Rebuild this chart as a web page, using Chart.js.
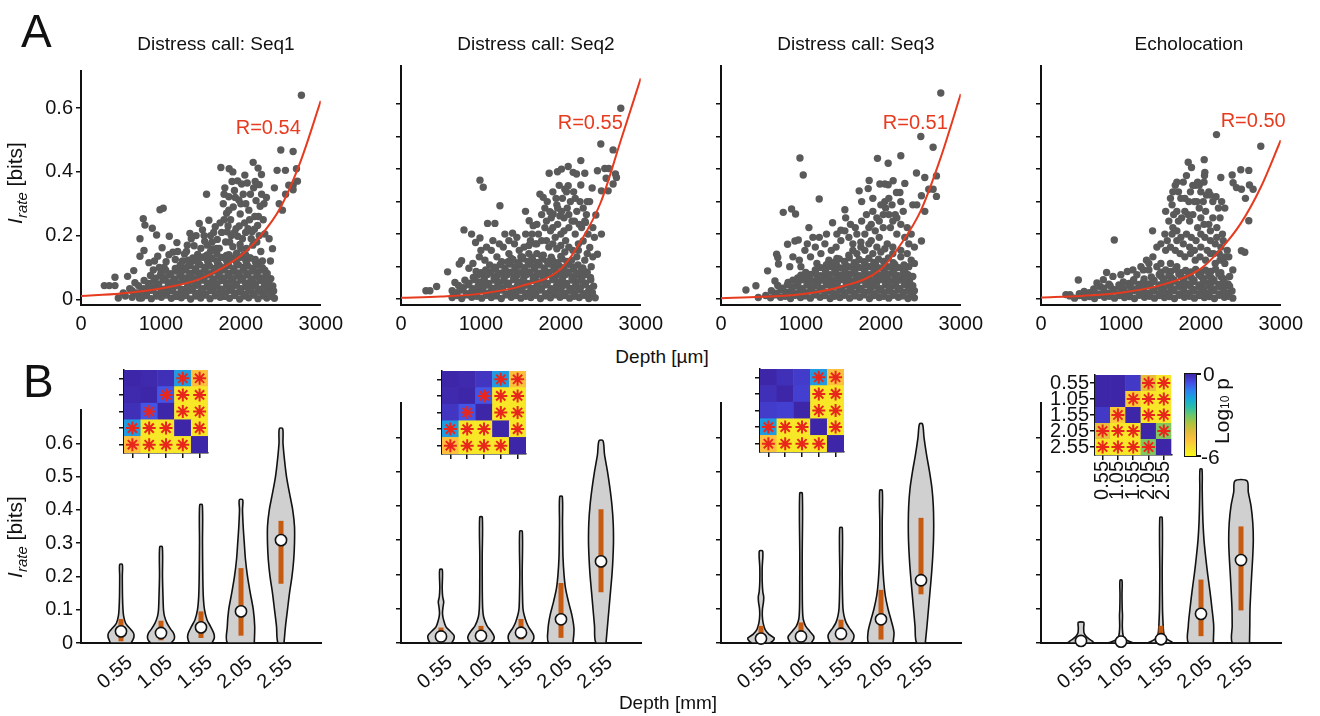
<!DOCTYPE html>
<html>
<head>
<meta charset="utf-8">
<script src="https://cdn.jsdelivr.net/npm/chart.js@4.4.1/dist/chart.umd.min.js"></script>
<style>
  html, body { margin: 0; padding: 0; background: #fff; }
  #fig { position: relative; width: 1320px; height: 716px; overflow: hidden;
         font-family: "Liberation Sans", Arial, Helvetica, sans-serif; color: #111; }
  #fig canvas { position: absolute; }
  .lbl { position: absolute; white-space: nowrap; font-size: 19px; line-height: 19px; }
  .big { font-size: 21px; line-height: 21px; }
  .ctr { transform: translateX(-50%); }
  .ylab { transform: translate(-50%, -50%) rotate(-90deg); }
  .panel { position: absolute; font-size: 46px; line-height: 46px; }
  .sub { font-size: 15px; vertical-align: -5px; }
  .cbar { position: absolute; box-sizing: border-box; border: 1.5px solid #111; }
  .tick { position: absolute; height: 1.5px; width: 5px; background: #111; }
</style>
</head>
<body>
<div id="fig"></div>
<script>
"use strict";

// ---- data ----------------------------------------------------------------
const panelTitles = ["Distress call: Seq1", "Distress call: Seq2", "Distress call: Seq3", "Echolocation"];
const fitLabels = ["R=0.54", "R=0.55", "R=0.51", "R=0.50"];

const umTicks = [0, 1000, 2000, 3000];
const bitsTicksTop1 = [0, 0.2, 0.4, 0.6];
const bitsTicksTop = [0, 0.1, 0.2, 0.3, 0.4, 0.5, 0.6];
const bitsTicksBottom = [0, 0.1, 0.2, 0.3, 0.4, 0.5, 0.6];
const depthTicks = [0.55, 1.05, 1.55, 2.05, 2.55];
const depthLabels = ["0.55", "1.05", "1.55", "2.05", "2.55"];

// exponential fit (depth in µm -> bits)
const fitDepth = [0, 500, 1000, 1500, 2000, 2250, 2500, 2750, 3000];
const seq1Fit = [0.010, 0.018, 0.034, 0.065, 0.137, 0.200, 0.290, 0.435, 0.623];
const seq2Fit = [0.004, 0.008, 0.017, 0.040, 0.093, 0.178, 0.298, 0.488, 0.679];
const seq3Fit = [0.003, 0.007, 0.015, 0.038, 0.092, 0.169, 0.272, 0.436, 0.631];
const echoFit = [0.005, 0.010, 0.020, 0.043, 0.094, 0.154, 0.233, 0.344, 0.489];

// single units: [depth µm, I_rate bits]
const seq1Points = [
  [292,.043],[354,.043],[425,.043],[425,.069],[467,.004],[529,.02],[583,.072],[555,.01],[610,.033],[640,.006],[675,.052],[700,.02],[730,.004],[660,.09],
  [738,.19],[779,.253],[800,.233],[788,.153],[738,.135],[892,.223],[946,.202],[988,.281],[1029,.286],
  [850,.115],[905,.092],[960,.135],[1015,.162],[1065,.118],[1105,.198],[1150,.148],[1200,.178],[1245,.102],[1295,.142],[1363,.207],[1415,.168],[1450,.128],[1480,.238],[1520,.218],[1571,.33],[1548,.182],[1600,.248],[1622,.2],[1652,.158],[1680,.228],[1705,.188],[1620,.15],[1560,.135],[1730,.16],[1760,.21],[1400,.12],[1330,.17],[1180,.125],
  [1750,.414],[1854,.41],[2154,.43],[2216,.412],[2258,.392],[1780,.3],[1800,.35],[1822,.27],[1850,.322],[1872,.25],[1890,.37],[1905,.29],[1920,.342],[1940,.222],[1960,.372],[1975,.312],[1992,.268],[2010,.362],[2030,.33],[2048,.24],[2062,.3],[2080,.365],[2100,.28],[2120,.33],[2140,.212],[2160,.35],[2175,.26],[2190,.31],[2210,.232],[2230,.36],[2242,.292],[2260,.33],[2280,.25],[2300,.205],[1830,.212],[1880,.2],[1960,.198],[2020,.19],[2090,.222],[2200,.18],[2250,.15],[2320,.32],[2354,.19],[2396,.159],[2300,.091],[2354,.06],[2370,.12],[1810,.18],[1900,.165],[1990,.172],[2070,.16],[2150,.17],[2110,.13],[2040,.14],[1950,.145],[1850,.14],[2180,.125],[2270,.12],
  [1320,.15],[1380,.19],[1440,.2],[1500,.16],[1540,.2],[1580,.17],[1640,.18],[1660,.21],[1700,.16],[1740,.24],[1790,.25],[1840,.23],[1860,.18],[1920,.21],[1980,.23],[2000,.16],[2060,.21],[2130,.19],[2170,.22],[2230,.2],[2220,.26],[2290,.3],[1850,.28],[1930,.32],[2000,.3],[2110,.25],[1790,.33],[1900,.4],[2050,.39],[2180,.37],[1270,.12],[1210,.15],[1100,.14],[1040,.1],[980,.1],[920,.12],
  [2454,.405],[2500,.469],[2558,.405],[2654,.464],[2696,.41],[2758,.641],[2600,.358],[2654,.358],[2708,.371],[2654,.344],[2480,.3],[2520,.28],[2420,.35],[2560,.33],
  [760,.004],[880,.002],[1005,.006],[1130,.003],[1255,.005],[1372,.001],[1498,.004],[1615,.002],[1742,.006],[1858,.003],[1985,.001],[2098,.005],[2215,.002],[2325,.004],[2420,.003],
  [820,.012],[945,.01],[1068,.013],[1190,.009],[1312,.012],[1436,.01],[1558,.013],[1680,.011],[1800,.009],[1922,.012],[2040,.01],[2160,.013],[2278,.011],[2372,.009],
  [705,.018],[818,.021],[943,.017],[1068,.02],[1192,.016],[1315,.022],[1437,.019],[1562,.017],[1683,.021],[1805,.018],[1925,.02],[2043,.016],[2158,.021],[2282,.018],[2385,.02],
  [640,.027],[760,.025],[880,.028],[1005,.024],[1130,.027],[1252,.025],[1375,.028],[1500,.024],[1620,.027],[1742,.025],[1862,.028],[1985,.024],[2100,.027],[2220,.025],[2330,.027],[2410,.026],
  [782,.033],[905,.036],[1028,.032],[1152,.035],[1270,.031],[1398,.036],[1522,.033],[1645,.035],[1762,.032],[1882,.036],[2002,.033],[2118,.035],[2240,.032],[2352,.036],
  [720,.043],[842,.041],[965,.044],[1090,.04],[1210,.043],[1335,.041],[1458,.044],[1580,.04],[1700,.043],[1822,.041],[1942,.044],[2062,.04],[2180,.043],[2295,.041],[2400,.042],
  [848,.05],[972,.048],[1092,.052],[1212,.049],[1338,.053],[1462,.048],[1580,.051],[1700,.049],[1822,.052],[1942,.048],[2060,.051],[2182,.049],[2300,.052],
  [790,.059],[910,.057],[1030,.06],[1152,.056],[1275,.059],[1398,.057],[1520,.06],[1642,.056],[1762,.059],[1882,.057],[2002,.06],[2122,.056],[2242,.059],[2350,.057],
  [930,.066],[1052,.068],[1172,.064],[1300,.067],[1420,.065],[1542,.069],[1662,.064],[1782,.067],[1902,.065],[2022,.068],[2142,.064],[2262,.067],[2375,.065],
  [870,.075],[990,.073],[1110,.076],[1235,.072],[1358,.075],[1480,.073],[1600,.076],[1722,.072],[1842,.075],[1962,.073],[2082,.076],[2200,.072],[2318,.075],
  [1000,.082],[1122,.08],[1250,.084],[1372,.081],[1490,.083],[1612,.08],[1732,.084],[1852,.081],[1972,.083],[2090,.08],[2210,.084],[2330,.081],
  [1060,.091],[1185,.089],[1310,.092],[1430,.088],[1550,.091],[1672,.089],[1792,.092],[1912,.088],[2032,.091],[2152,.089],[2270,.092],
  [1180,.097],[1310,.099],[1432,.096],[1552,.1],[1672,.097],[1790,.099],[1912,.096],[2032,.1],[2150,.097],[2270,.099],
  [1240,.107],[1365,.105],[1488,.108],[1610,.104],[1730,.107],[1850,.105],[1970,.108],[2090,.104],[2210,.107],
  [1350,.114],[1470,.112],[1590,.116],[1710,.113],[1830,.115],[1950,.112],[2070,.116],[2190,.113],
  [1340,.123],[1460,.121],[1580,.124],[1700,.12],[1820,.123],[1940,.121],[2060,.124],[2180,.12],
  [1400,.13],[1520,.132],[1640,.128],[1760,.131],[1880,.129],[2000,.132],[2120,.13],
  [1460,.141],[1580,.139],[1700,.142],[1820,.138],[1940,.141],[2060,.139]
];

const seq2Points = [
  [2750,.587],[2500,.477],[2654,.459],[2250,.426],[2092,.408],[2008,.4],[1958,.392],[1854,.387],[2154,.39],[2196,.385],[2300,.387],[2458,.395],[2550,.402],[2600,.402],[2683,.385],[2696,.374],[2567,.372],[2654,.354],[2592,.333],[2508,.333],
  [988,.366],[1029,.344],[1238,.287],[1083,.233],[1175,.233],[788,.213],[883,.2],[933,.174],[988,.188],[1396,.203],[1738,.323],[1779,.313],[1863,.269],[1904,.262],[1988,.256],[1558,.27],[1604,.241],[1654,.226],[2092,.349],[2050,.338],[2250,.351],[2392,.342],[2438,.259],[2508,.2],[2308,.236],[2279,.179],[2458,.138],[2362,.159],[583,.084],[675,.051],[312,.026],[362,.026],[446,.039],[758,.118],[729,.108],
  [1720,.2],[1760,.18],[1800,.22],[1830,.3],[1870,.21],[1900,.33],[1930,.19],[1950,.29],[1980,.35],[2000,.2],[2020,.31],[2040,.25],[2060,.18],[2080,.28],[2100,.22],[2120,.3],[2140,.24],[2160,.33],[2180,.2],[2200,.27],[2220,.17],[2240,.3],[2260,.22],[2280,.28],[2320,.26],[2340,.2],[2360,.3],[2400,.22],[2420,.19],[1880,.25],[1960,.23],[2010,.27],[2150,.15],[1850,.16],[1950,.155],[2050,.145],[1680,.17],[1620,.18],[1540,.16],[1480,.15],[1420,.17],[1350,.14],[1280,.16],[1200,.13],[1130,.15],[1050,.12],[980,.13],[900,.11],[850,.095],[940,.085],[1110,.105],[1260,.115],[1380,.125],[1500,.13],[1600,.14],[1700,.14],[1780,.135],[2200,.13],[2300,.12],[2380,.1],[2260,.09],
  [1560,.2],[1640,.2],[1700,.23],[1760,.26],[1820,.24],[1900,.22],[1960,.28],[2040,.21],[2100,.26],[2170,.24],[2230,.23],[2300,.24],[2330,.3],[1940,.31],[2070,.33],[2180,.31],[1800,.28],[1450,.19],[1350,.18],[1300,.2],[1230,.17],[1150,.18],[1070,.16],[1000,.15],[1600,.165],[1700,.17],[1820,.18],[1900,.17],[2000,.165],[2100,.16],[2220,.15],[2330,.14],[2400,.13],
  [640,.005],[760,.002],[885,.006],[1010,.003],[1130,.005],[1255,.002],[1380,.006],[1500,.003],[1625,.005],[1745,.002],[1870,.004],[1990,.006],[2110,.003],[2230,.005],[2350,.002],[2430,.004],
  [700,.011],[825,.013],[948,.009],[1070,.012],[1192,.01],[1315,.013],[1438,.011],[1560,.009],[1685,.012],[1805,.01],[1928,.013],[2048,.011],[2168,.009],[2290,.012],[2400,.01],
  [700,.02],[822,.017],[948,.021],[1070,.018],[1195,.02],[1318,.016],[1440,.021],[1562,.018],[1688,.02],[1808,.017],[1930,.021],[2050,.018],[2170,.02],[2290,.017],[2395,.02],
  [640,.026],[760,.028],[885,.024],[1008,.027],[1130,.025],[1255,.028],[1378,.024],[1500,.027],[1622,.025],[1745,.028],[1868,.024],[1990,.027],[2110,.025],[2230,.028],[2345,.024],
  [780,.035],[900,.032],[1025,.036],[1148,.033],[1270,.035],[1392,.032],[1518,.036],[1640,.033],[1762,.035],[1882,.032],[2005,.036],[2125,.033],[2245,.035],[2360,.032],
  [720,.042],[842,.044],[965,.04],[1088,.043],[1210,.041],[1332,.044],[1455,.04],[1578,.043],[1700,.041],[1822,.044],[1945,.04],[2065,.043],[2185,.041],[2305,.044],[2410,.04],
  [850,.049],[975,.052],[1098,.048],[1220,.051],[1345,.049],[1465,.052],[1588,.048],[1710,.051],[1830,.049],[1952,.052],[2072,.048],[2192,.051],[2310,.049],
  [800,.058],[920,.06],[1042,.056],[1165,.059],[1288,.057],[1410,.06],[1532,.056],[1655,.059],[1778,.057],[1900,.06],[2020,.056],[2140,.059],[2260,.057],[2375,.06],
  [905,.067],[1040,.064],[1165,.068],[1290,.065],[1412,.067],[1535,.064],[1655,.068],[1778,.065],[1900,.067],[2020,.064],[2140,.068],[2260,.065],[2370,.067],
  [960,.074],[1082,.076],[1205,.072],[1328,.075],[1450,.073],[1572,.076],[1695,.072],[1818,.075],[1940,.073],[2060,.076],[2180,.072],[2300,.075],
  [1000,.081],[1120,.084],[1245,.08],[1368,.083],[1490,.081],[1612,.084],[1735,.08],[1855,.083],[1975,.081],[2095,.084],[2215,.08],[2330,.083],
  [1060,.09],[1182,.092],[1305,.088],[1428,.091],[1550,.089],[1672,.092],[1795,.088],[1918,.091],[2040,.089],[2160,.092],[2280,.088],
  [1170,.098],[1300,.096],[1425,.1],[1548,.097],[1670,.099],[1792,.096],[1912,.1],[2035,.097],[2155,.099],[2275,.096],
  [1240,.106],[1362,.108],[1485,.104],[1608,.107],[1730,.105],[1852,.108],[1975,.104],[2095,.107],[2215,.105],
  [1340,.115],[1465,.112],[1588,.116],[1710,.113],[1832,.115],[1955,.112],[2075,.116],
  [1400,.122],[1525,.124],[1648,.12],[1770,.123],[1892,.121],[2015,.124],[2135,.12],
  [1520,.13],[1640,.128],[1760,.132],[1880,.129],[2000,.131]
];

const seq3Points = [
  [2750,.634],[2500,.5],[2654,.467],[988,.434],[1029,.382],[1958,.433],[2092,.418],[2250,.441],[1854,.365],[1988,.354],[2050,.354],[2092,.352],[2154,.364],[2300,.356],[2446,.388],[2550,.374],[2696,.379],[2654,.338],[2600,.338],[1229,.308],[1729,.333],[1842,.34],[2196,.328],[2238,.328],[779,.267],[883,.277],[933,.262],[1100,.22],[1396,.235],[1500,.212],[1550,.275],[1560,.25],[833,.169],[925,.179],[967,.182],[696,.138],[710,.128],[720,.108],[583,.087],[675,.056],[312,.028],[437,.041],[467,.005],[2508,.179],
  [2050,.3],[2060,.28],[2140,.29],[2180,.26],[2400,.29],[2450,.29],[2508,.318],[2550,.27],[2696,.316],[1900,.27],[1950,.25],[2000,.29],[2030,.22],[2100,.26],[2150,.24],[2200,.2],[2250,.23],[2300,.19],[2350,.17],[2420,.16],[2380,.12],[2330,.14],[1800,.2],[1850,.22],[1880,.18],[1980,.19],[2080,.17],[1750,.175],[1700,.2],[1650,.17],[1600,.19],[1500,.18],[1440,.16],[1380,.15],[1300,.17],[1250,.14],[1180,.16],[1120,.13],[1050,.15],[980,.12],[900,.13],[860,.1],[1700,.14],[1800,.15],[1900,.14],[2000,.145],[2150,.14],[2250,.13],[1600,.135],[1450,.125],[1350,.12],[1200,.11],[1000,.1],[2300,.085],[2400,.07],
  [1550,.21],[1620,.23],[1680,.22],[1760,.24],[1820,.26],[1880,.23],[1930,.21],[1980,.24],[2030,.26],[2120,.22],[2200,.25],[2280,.27],[2330,.22],[2380,.2],[1760,.3],[1900,.31],[2100,.31],[2250,.3],[1450,.2],[1320,.2],[1230,.19],[1150,.19],[1080,.17],[1650,.15],[1750,.16],[1850,.17],[1950,.16],[2050,.155],[2150,.16],[2250,.15],[2350,.1],[2420,.11],
  [620,.004],[745,.006],[870,.002],[995,.005],[1118,.003],[1240,.006],[1365,.002],[1488,.005],[1610,.003],[1735,.006],[1858,.002],[1980,.005],[2100,.003],[2220,.006],[2340,.002],[2420,.004],
  [560,.011],[680,.013],[805,.009],[928,.012],[1052,.01],[1175,.013],[1298,.011],[1420,.009],[1545,.012],[1668,.01],[1790,.013],[1912,.011],[2035,.009],[2155,.012],[2275,.01],[2395,.013],
  [690,.018],[810,.021],[935,.017],[1058,.02],[1182,.018],[1305,.021],[1428,.017],[1552,.02],[1675,.018],[1798,.021],[1920,.017],[2042,.02],[2162,.018],[2282,.021],[2390,.018],
  [630,.026],[750,.028],[872,.024],[995,.027],[1120,.025],[1242,.028],[1365,.024],[1488,.027],[1610,.025],[1732,.028],[1855,.024],[1978,.027],[2100,.025],[2220,.028],[2340,.024],[2420,.026],
  [770,.034],[892,.036],[1015,.032],[1140,.035],[1262,.033],[1385,.036],[1508,.032],[1630,.035],[1752,.033],[1875,.036],[1995,.032],[2115,.035],[2235,.033],[2350,.036],
  [710,.042],[830,.044],[952,.04],[1075,.043],[1198,.041],[1320,.044],[1443,.04],[1566,.043],[1690,.041],[1812,.044],[1935,.04],[2058,.043],[2178,.041],[2298,.044],[2400,.041],
  [840,.051],[962,.048],[1085,.052],[1210,.049],[1332,.051],[1455,.048],[1578,.052],[1700,.049],[1822,.051],[1945,.048],[2065,.052],[2185,.049],[2305,.051],
  [900,.058],[1022,.06],[1145,.056],[1268,.059],[1390,.057],[1512,.06],[1635,.056],[1758,.059],[1880,.057],[2002,.06],[2122,.056],[2242,.059],[2360,.057],
  [960,.065],[1082,.068],[1205,.064],[1328,.067],[1450,.065],[1572,.068],[1695,.064],[1818,.067],[1940,.065],[2060,.068],[2180,.064],[2300,.067],
  [1000,.074],[1122,.076],[1245,.072],[1368,.075],[1490,.073],[1612,.076],[1735,.072],[1858,.075],[1980,.073],[2100,.076],[2220,.072],[2340,.075],
  [1060,.082],[1185,.08],[1310,.084],[1432,.081],[1555,.083],[1678,.08],[1800,.084],[1922,.081],[2045,.083],[2165,.08],[2285,.084],
  [1180,.09],[1302,.092],[1425,.088],[1548,.091],[1670,.089],[1792,.092],[1915,.088],[2038,.091],[2160,.089],[2280,.092],
  [1250,.097],[1372,.1],[1495,.096],[1618,.099],[1740,.097],[1862,.1],[1985,.096],[2105,.099],[2225,.097],
  [1320,.106],[1442,.108],[1565,.104],[1688,.107],[1810,.105],[1932,.108],[2055,.104],[2175,.107],[2290,.105],
  [1420,.113],[1545,.116],[1668,.112],[1790,.115],[1912,.113],[2035,.116],[2155,.112],
  [1480,.124],[1605,.127],[1728,.122],[1850,.126],[1972,.123],[2095,.127]
];

const echoPoints = [
  [2196,.506],[2750,.47],[2042,.429],[1842,.421],[1883,.405],[2500,.398],[2600,.396],[2392,.382],[2250,.374],[2050,.39],[2046,.38],[2404,.358],[2446,.343],[2508,.338],[2608,.351],[2654,.338],[2558,.31],[2600,.241],[2508,.149],[2550,.144],[917,.182],[1396,.21],[467,.059],[821,.082],[312,.014],[362,.014],
  [1700,.36],[1680,.35],[1650,.33],[1900,.35],[1930,.35],[1960,.36],[1980,.35],[2000,.33],[2100,.33],[1750,.31],[1800,.31],[1850,.3],[1950,.3],[2030,.3],[2070,.32],[2120,.32],[2190,.315],[2300,.28],[1640,.29],[1700,.27],[1760,.25],[1800,.27],[1860,.24],[1900,.26],[1960,.22],[2000,.25],[2060,.27],[2100,.23],[2150,.25],[2200,.22],[2240,.25],[2270,.2],[1600,.24],[1650,.22],[1700,.21],[1750,.19],[1820,.2],[1880,.19],[1940,.18],[2000,.2],[2050,.19],[2120,.18],[2180,.17],[2250,.16],[2330,.15],[2350,.13],[2300,.11],[2400,.09],[2360,.07],[1550,.2],[1500,.17],[1450,.16],[1560,.15],[1620,.16],[1680,.15],[1740,.14],[1800,.13],[1870,.14],[1930,.12],[1990,.13],[2060,.12],[2120,.14],[2180,.11],[2240,.12],[1400,.13],[1320,.12],[1250,.1],[1150,.09],[1080,.085],[1000,.075],[900,.07],[780,.06],[700,.05],[1200,.075],[1350,.09],[1500,.11],[1620,.11],[1700,.1],
  [1560,.27],[1620,.31],[1720,.33],[1780,.36],[1820,.38],[1870,.33],[2040,.36],[2150,.3],[2220,.28],[2260,.3],[1660,.26],[1720,.24],[1840,.26],[1920,.3],[1980,.28],[2040,.23],[2120,.21],[2200,.19],[2280,.18],[1580,.18],[1640,.2],[1700,.18],[1780,.17],[1860,.16],[1920,.15],[2000,.16],[2080,.15],[2160,.14],[2230,.14],[2300,.13],[1450,.1],[1350,.11],[1280,.09],
  [420,.003],[545,.005],[670,.002],[795,.006],[920,.003],[1045,.005],[1170,.002],[1295,.006],[1420,.003],[1545,.005],[1670,.002],[1795,.006],[1920,.003],[2045,.005],[2170,.002],[2295,.006],[2400,.003],
  [360,.01],[482,.011],[607,.008],[732,.012],[857,.009],[982,.011],[1107,.008],[1232,.012],[1357,.009],[1482,.011],[1607,.008],[1732,.012],[1857,.009],[1982,.011],[2107,.008],[2232,.012],[2345,.009],
  [480,.017],[605,.02],[730,.016],[855,.019],[980,.017],[1105,.02],[1230,.016],[1355,.019],[1480,.017],[1605,.02],[1730,.016],[1855,.019],[1980,.017],[2105,.02],[2230,.016],[2350,.019],
  [540,.024],[665,.026],[790,.022],[915,.025],[1040,.023],[1165,.026],[1290,.022],[1415,.025],[1540,.023],[1665,.026],[1790,.022],[1915,.025],[2040,.023],[2165,.026],[2290,.022],[2390,.025],
  [660,.031],[785,.034],[910,.03],[1035,.033],[1160,.031],[1285,.034],[1410,.03],[1535,.033],[1660,.031],[1785,.034],[1910,.03],[2035,.033],[2160,.031],[2285,.034],
  [740,.039],[865,.041],[990,.037],[1115,.04],[1240,.038],[1365,.041],[1490,.037],[1615,.04],[1740,.038],[1865,.041],[1990,.037],[2115,.04],[2240,.038],[2360,.04],
  [850,.046],[975,.044],[1100,.048],[1225,.045],[1350,.047],[1475,.044],[1600,.048],[1725,.045],[1850,.047],[1975,.044],[2100,.048],[2225,.045],[2340,.047],
  [1030,.053],[1155,.055],[1280,.051],[1405,.054],[1530,.052],[1655,.055],[1780,.051],[1905,.054],[2030,.052],[2155,.055],[2280,.051],
  [1160,.06],[1290,.062],[1415,.058],[1540,.061],[1665,.059],[1790,.062],[1915,.058],[2040,.061],[2165,.059],[2290,.062],
  [1380,.068],[1505,.07],[1630,.066],[1755,.069],[1880,.067],[2005,.07],[2130,.066],[2255,.069],
  [1480,.076],[1600,.073],[1725,.077],[1850,.074],[1975,.076],[2100,.073],[2225,.077],
  [1500,.083],[1625,.085],[1750,.081],[1875,.084],[2000,.082],[2125,.085],[2250,.081],
  [1560,.09],[1685,.092],[1810,.088],[1935,.091],[2060,.089],[2185,.092]
];

// violins: y (bits) and half-width (density units) per depth bin
const seq1ViolinY = [
  [0,.01,.02,.03,.04,.05,.06,.08,.1,.14,.2,.236],
  [0,.01,.02,.03,.04,.06,.08,.1,.14,.2,.289],
  [0,.015,.03,.05,.07,.1,.14,.2,.3,.415],
  [0,.05,.1,.15,.2,.25,.3,.35,.4,.43],
  [0,.05,.1,.15,.2,.25,.3,.35,.4,.45,.5,.55,.6,.644]
];
const seq1ViolinW = [
  [10,12,13,12.5,10,7,4.5,2.7,2,1.5,1.3,1.3],
  [10,13,13.5,12.5,10,6,3.5,2.5,2,1.5,1.3],
  [11,13.3,12.7,9.5,6,3.5,2.3,1.8,1.5,1.3],
  [13.3,13.7,12.3,9.3,6.5,4.5,3.3,2.2,1.5,1.7],
  [3,4.5,6.5,8.5,11,12.7,13.5,13.5,11.7,8.5,5.5,3.5,2,1.7]
];
const seq1Median = [.035, .03, .047, .095, .309];
const seq1Q1 = [.005, .008, .015, .022, .178];
const seq1Q3 = [.072, .067, .095, .225, .367];

const seq2ViolinY = [
  [0,.01,.022,.035,.047,.066,.085,.105,.12,.135,.16,.214],
  [0,.01,.02,.035,.05,.075,.1,.15,.25,.367],
  [0,.012,.025,.045,.06,.08,.1,.14,.2,.326],
  [0,.04,.08,.12,.16,.2,.25,.3,.35,.427],
  [0,.05,.1,.15,.2,.25,.3,.35,.4,.45,.5,.55,.59]
];
const seq2ViolinW = [
  [10.5,12.7,13,9,5,2.7,1.5,2,2.7,1.7,1.2,1.3],
  [10,12.7,13,10,6,2.7,1.7,1.3,1.2,1.3],
  [10.5,12.7,12.3,8,5.5,3.3,2,1.5,1.2,1.3],
  [12,13,11,7.5,4.5,3,2,1.7,1.5,1.3],
  [5,6.5,8,9.5,11,12,12.5,12.2,11,9,6.5,3.5,2]
];
const seq2Median = [.019, .021, .03, .069, .238];
const seq2Q1 = [.005, .008, .01, .015, .148];
const seq2Q3 = [.045, .05, .07, .175, .39];

const seq3ViolinY = [
  [0,.008,.015,.025,.04,.06,.08,.1,.12,.135,.15,.18,.22,.268],
  [0,.01,.02,.035,.05,.07,.1,.15,.25,.437],
  [0,.012,.025,.045,.06,.08,.1,.14,.2,.336],
  [0,.03,.065,.1,.14,.18,.23,.28,.35,.445],
  [0,.05,.1,.15,.2,.25,.3,.35,.4,.45,.5,.55,.6,.639]
];
const seq3ViolinW = [
  [9,12.5,13,8,4,2,1.3,1.5,2.5,2.7,1.8,1.2,1.2,1.7],
  [10,12.5,12.7,8.5,4.5,2.2,1.5,1.3,1.2,1.3],
  [10,12.5,12.7,8,5,3,2,1.5,1.2,1.3],
  [12,13,10.3,7,4.2,2.7,1.7,1.3,1.2,1.3],
  [4.3,6,7.5,9,10.5,11.7,12.5,12.7,12.3,11,8.5,5.5,3,1.5]
];
const seq3Median = [.013, .019, .027, .069, .183];
const seq3Q1 = [.003, .008, .008, .01, .142];
const seq3Q3 = [.05, .06, .068, .155, .365];

const echoViolinY = [
  [0,.006,.012,.02,.03,.045,.06],
  [0,.005,.01,.018,.03,.05,.08,.1,.14,.183],
  [0,.006,.012,.02,.035,.06,.1,.2,.366],
  [0,.05,.1,.15,.2,.25,.3,.35,.4,.45,.507],
  [0,.05,.1,.15,.2,.25,.3,.35,.4,.44,.473]
];
const echoViolinW = [
  [13,11,8,5,3,2.7,2.7],
  [12.7,8,5,2.5,1.7,1.3,1.5,1.2,1,1],
  [12.7,9,5.5,3.5,2.5,2,1.5,1.2,1.2],
  [12.3,12.7,11,9,6.7,4.7,3,2,1.5,1.2,1],
  [8.5,8.8,9,9.8,10.7,11.7,12.3,11.8,10,7.3,6]
];
const echoMedian = [.006, .004, .011, .085, .242];
const echoQ1 = [0, 0, .005, .02, .095];
const echoQ3 = [.01, .008, .05, .185, .34];

// pairwise tests: log10 p (rows/cols = depth bins) and significance flags
const seq1LogP = [
  [0, -0.05, -0.15, -1.6, -4.8],
  [-0.05, 0, -0.7, -5.6, -5.6],
  [-0.15, -0.7, 0, -5.6, -5.6],
  [-1.6, -5.6, -5.6, 0, -5.6],
  [-4.8, -5.6, -5.6, -5.6, 0]
];
const seq2LogP = [
  [0, -0.05, -0.25, -1.6, -4.8],
  [-0.05, 0, -0.7, -5.6, -5.6],
  [-0.25, -0.7, 0, -5.6, -5.6],
  [-1.6, -5.6, -5.6, 0, -5.6],
  [-4.8, -5.6, -5.6, -5.6, 0]
];
const seq3LogP = [
  [0, -0.15, -0.35, -1.6, -4.8],
  [-0.15, 0, -0.4, -5.6, -5.6],
  [-0.35, -0.4, 0, -5.6, -5.6],
  [-1.6, -5.6, -5.6, 0, -5.6],
  [-4.8, -5.6, -5.6, -5.6, 0]
];
const echoLogP = [
  [0, 0, -0.3, -4.4, -5.6],
  [0, 0, -5.0, -5.6, -5.6],
  [-0.3, -5.0, 0, -5.6, -5.6],
  [-4.4, -5.6, -5.6, 0, -3.2],
  [-5.6, -5.6, -5.6, -3.2, 0]
];
const sigAll = [
  [0, 0, 0, 1, 1],
  [0, 0, 1, 1, 1],
  [0, 1, 0, 1, 1],
  [1, 1, 1, 0, 1],
  [1, 1, 1, 1, 0]
];
const sigSeq3 = [
  [0, 0, 0, 1, 1],
  [0, 0, 0, 1, 1],
  [0, 0, 0, 1, 1],
  [1, 1, 1, 0, 1],
  [1, 1, 1, 1, 0]
];

// ---- style ---------------------------------------------------------------
const FONT = '"Liberation Sans", Arial, Helvetica, sans-serif';
const INK = "#111";
const RED = "#e63b1f";
const DOT = "#5a5a5a";
const VIOLIN_FILL = "#d0d0d0";
const IQR = "#c55a11";
const VIOLIN_UNIT = 0.0125; // mm of depth per density unit

// parula-like map, 0 (p=1) -> -6
const parulaStops = [
  [0.0, [62, 38, 168]], [0.1, [70, 75, 228]], [0.2, [45, 128, 240]],
  [0.3, [22, 168, 218]], [0.4, [40, 190, 172]], [0.5, [105, 200, 110]],
  [0.6, [172, 196, 62]], [0.7, [222, 188, 58]], [0.8, [252, 192, 60]],
  [0.9, [246, 222, 46]], [1.0, [249, 248, 24]]
];
function mapColor(t) {
  t = Math.min(1, Math.max(0, t));
  for (let i = 1; i < parulaStops.length; i++) {
    const [t1, c1] = parulaStops[i];
    const [t0, c0] = parulaStops[i - 1];
    if (t <= t1) {
      const f = (t - t0) / (t1 - t0);
      const c = c0.map((v, k) => Math.round(v + (c1[k] - v) * f));
      return `rgb(${c[0]},${c[1]},${c[2]})`;
    }
  }
  return "rgb(249,248,24)";
}
const logPColor = (v) => mapColor(-v / 6);

Chart.defaults.font.family = FONT;
Chart.defaults.font.size = 19;
Chart.defaults.color = INK;
Chart.defaults.animation = false;
Chart.defaults.events = [];
Chart.defaults.plugins.legend.display = false;
Chart.defaults.plugins.tooltip.enabled = false;

const fig = document.getElementById("fig");

function addCanvas(left, top, w, h) {
  const c = document.createElement("canvas");
  c.width = w; c.height = h;
  c.style.left = left + "px"; c.style.top = top + "px";
  c.style.width = w + "px"; c.style.height = h + "px";
  fig.appendChild(c);
  return c;
}

function addText(html, left, top, cls) {
  const d = document.createElement("div");
  d.className = cls;
  d.style.left = left + "px";
  d.style.top = top + "px";
  d.innerHTML = html;
  fig.appendChild(d);
  return d;
}

const fixTicks = (vals) => (scale) => { scale.ticks = vals.map((v) => ({ value: v })); };

// R= label next to the fit curve
const rLabelPlugin = {
  id: "rLabel",
  afterDatasetsDraw(chart, args, opts) {
    const { ctx, scales: { x, y } } = chart;
    ctx.save();
    ctx.font = "20px " + FONT;
    ctx.fillStyle = RED;
    ctx.textAlign = "right";
    ctx.textBaseline = "middle";
    ctx.fillText(opts.text, x.getPixelForValue(opts.at[0]), y.getPixelForValue(opts.at[1]));
    ctx.restore();
  }
};

function xAxis(min, max, ticks, fmt, rot, height, pad, shift) {
  return {
    type: "linear", min, max,
    afterBuildTicks: fixTicks(ticks),
    afterFit: (s) => { s.height = height; },
    grid: { display: true, drawOnChartArea: false, drawTicks: false },
    border: { display: true, color: INK, width: 2 },
    ticks: { padding: pad, labelOffset: shift, minRotation: rot, maxRotation: rot, autoSkip: false,
             callback: fmt, font: { size: 20 } }
  };
}

function yAxis(min, max, ticks, showLabels, fmt) {
  return {
    type: "linear", min, max,
    afterBuildTicks: fixTicks(ticks),
    afterFit: (s) => { s.width = 81; },
    grid: { display: true, drawOnChartArea: false, drawTicks: true, tickLength: 5, color: INK, lineWidth: 1.5 },
    border: { display: true, color: INK, width: 2 },
    ticks: { display: showLabels, padding: 3, autoSkip: false, callback: fmt, font: { size: 20 } }
  };
}

const bitsFmt = (v) => (v === 0 ? "0" : v.toFixed(1));

// ---- top row: scatter + fit ----------------------------------------------
const topPoints = [seq1Points, seq2Points, seq3Points, echoPoints];
const topFits = [seq1Fit, seq2Fit, seq3Fit, echoFit];
const rLabelAt = [[2750, 0.535], [2775, 0.54], [2838, 0.54], [3062, 0.545]];

topPoints.forEach((pts, i) => {
  const cv = addCanvas(320 * i, 56, 350, 290);
  new Chart(cv, {
    type: "line",
    data: {
      datasets: [
        {
          data: fitDepth.map((x, k) => ({ x, y: topFits[i][k] })),
          borderColor: RED, borderWidth: 2, pointRadius: 0,
          cubicInterpolationMode: "monotone", fill: false, order: 0
        },
        {
          data: pts.map(([x, y]) => ({ x, y })),
          showLine: false, pointRadius: 3.7, pointBorderWidth: 0,
          pointBackgroundColor: DOT, order: 1
        }
      ]
    },
    options: {
      responsive: false,
      layout: { autoPadding: false, padding: { top: 10, right: 29, left: 0, bottom: 0 } },
      scales: {
        x: xAxis(0, 3000, umTicks, (v) => String(v), 0, 41, 7, 0),
        y: yAxis(-0.018, 0.717, i === 0 ? bitsTicksTop1 : bitsTicksTop, i === 0, bitsFmt)
      },
      plugins: { rLabel: { text: fitLabels[i], at: rLabelAt[i] } }
    },
    plugins: [rLabelPlugin]
  });
});

// ---- bottom row: violins -------------------------------------------------
const violinY = [seq1ViolinY, seq2ViolinY, seq3ViolinY, echoViolinY];
const violinW = [seq1ViolinW, seq2ViolinW, seq3ViolinW, echoViolinW];
const medians = [seq1Median, seq2Median, seq3Median, echoMedian];
const q1s = [seq1Q1, seq2Q1, seq3Q1, echoQ1];
const q3s = [seq1Q3, seq2Q3, seq3Q3, echoQ3];

function violinOutline(center, ys, ws) {
  const right = ys.map((y, k) => ({ x: center + ws[k] * VIOLIN_UNIT, y }));
  const left = ys.map((y, k) => ({ x: center - ws[k] * VIOLIN_UNIT, y })).reverse();
  return [...right, ...left, right[0]];
}

violinY.forEach((ysets, i) => {
  const datasets = [];
  depthTicks.forEach((c, j) => {
    datasets.push({
      data: violinOutline(c, ysets[j], violinW[i][j]),
      showLine: true, pointRadius: 0, borderColor: INK, borderWidth: 1.6,
      backgroundColor: VIOLIN_FILL, fill: "shape", tension: 0.3, order: 2
    });
    datasets.push({
      data: [{ x: c, y: q1s[i][j] }, { x: c, y: q3s[i][j] }],
      showLine: true, pointRadius: 0, borderColor: IQR, borderWidth: 5,
      borderCapStyle: "butt", fill: false, order: 1
    });
  });
  datasets.push({
    data: depthTicks.map((c, j) => ({ x: c, y: medians[i][j] })),
    showLine: false, pointRadius: 5.6, pointBorderWidth: 1.6,
    pointBorderColor: INK, pointBackgroundColor: "#fff", clip: false, order: 0
  });

  const cv = addCanvas(320 * i, 395, 350, 305);
  new Chart(cv, {
    type: "line",
    data: { datasets },
    options: {
      responsive: false,
      layout: { autoPadding: false, padding: { top: 8, right: 29, left: 0, bottom: 0 } },
      scales: {
        x: xAxis(0.05, 3.05, depthTicks, (v) => v.toFixed(2), 40, 57, 8, 9),
        y: yAxis(0, 0.7, bitsTicksBottom, i === 0, bitsFmt)
      }
    }
  });
});

// ---- inset heatmaps ------------------------------------------------------
const insetLogP = [seq1LogP, seq2LogP, seq3LogP, echoLogP];
const insetSig = [sigAll, sigAll, sigSeq3, sigAll];
const insetBoxes = [
  { left: 100, top: 360, w: 120, h: 110, yW: 24, xH: 17, labels: false },
  { left: 418, top: 361, w: 120, h: 110, yW: 24, xH: 17, labels: false },
  { left: 736, top: 359, w: 120, h: 110, yW: 24, xH: 17, labels: false },
  { left: 1035, top: 362, w: 155, h: 160, yW: 60, xH: 67, labels: true }
];
const binIdx = [1, 2, 3, 4, 5];

insetLogP.forEach((mat, i) => {
  const box = insetBoxes[i];
  const cells = [];
  const stars = [];
  mat.forEach((row, r) => row.forEach((v, c) => {
    cells.push({ x: c + 1, y: r + 1, v });
    if (insetSig[i][r][c]) stars.push({ x: c + 1, y: r + 1 });
  }));
  const cv = addCanvas(box.left, box.top, box.w, box.h);
  const tickGrid = { display: true, drawOnChartArea: false, drawTicks: true, tickLength: 5, color: INK, lineWidth: 1.5 };
  new Chart(cv, {
    type: "scatter",
    data: {
      datasets: [
        {
          data: stars, pointStyle: "star", pointRadius: 6.5, pointBorderWidth: 2,
          pointBorderColor: "#e8261c", order: 0
        },
        {
          data: cells, pointStyle: "rect", pointBorderWidth: 0,
          pointRadius: (ctx) => (ctx.chart.chartArea ? ctx.chart.chartArea.width / 5 / Math.SQRT2 + 0.35 : 12),
          pointBackgroundColor: (ctx) => logPColor(ctx.raw ? ctx.raw.v : 0),
          order: 1
        }
      ]
    },
    options: {
      responsive: false,
      layout: { autoPadding: false, padding: { top: 10, right: 12, left: 0, bottom: 0 } },
      scales: {
        x: {
          type: "linear", min: 0.5, max: 5.5,
          afterBuildTicks: fixTicks(binIdx),
          afterFit: (s) => { s.height = box.xH; },
          grid: tickGrid,
          border: { display: true, color: INK, width: 1.5 },
          ticks: { display: box.labels, padding: 1, minRotation: 90, maxRotation: 90, autoSkip: false,
                   callback: (v) => depthLabels[v - 1], font: { size: 20 } }
        },
        y: {
          type: "linear", min: 0.5, max: 5.5, reverse: true,
          afterBuildTicks: fixTicks(binIdx),
          afterFit: (s) => { s.width = box.yW; },
          grid: tickGrid,
          border: { display: true, color: INK, width: 1.5 },
          ticks: { display: box.labels, padding: 1, autoSkip: false,
                   callback: (v) => depthLabels[v - 1], font: { size: 20 } }
        }
      }
    }
  });
});

// colour bar for the last inset
const gradStops = parulaStops.map(([t]) => `${mapColor(t)} ${Math.round(t * 100)}%`).join(", ");
const bar = addText("", 1184, 373, "cbar");
bar.style.width = "13px";
bar.style.height = "84px";
bar.style.background = `linear-gradient(to bottom, ${gradStops})`;
addText("", 1196, 373, "tick");
addText("", 1196, 455, "tick");
addText("0", 1203, 363, "lbl big");
addText("-6", 1201, 446, "lbl big");
addText("Log<span style=\"font-size:12px\">10</span> p", 1223, 411, "lbl big ylab");

// ---- text ----------------------------------------------------------------
addText("A", 21, 8, "panel");
addText("B", 23, 358, "panel");
const titleX = [216, 536, 856, 1189];
panelTitles.forEach((t, i) => addText(t, titleX[i], 34, "lbl ctr"));
addText("Depth [µm]", 662, 347, "lbl ctr");
addText("Depth [mm]", 668, 693, "lbl ctr");
const yLab = "<i>I</i><span class=\"sub\"><i>rate</i></span> [bits]";
addText(yLab, 18, 183, "lbl big ylab");
addText(yLab, 18, 537, "lbl big ylab");
</script>
</body>
</html>
